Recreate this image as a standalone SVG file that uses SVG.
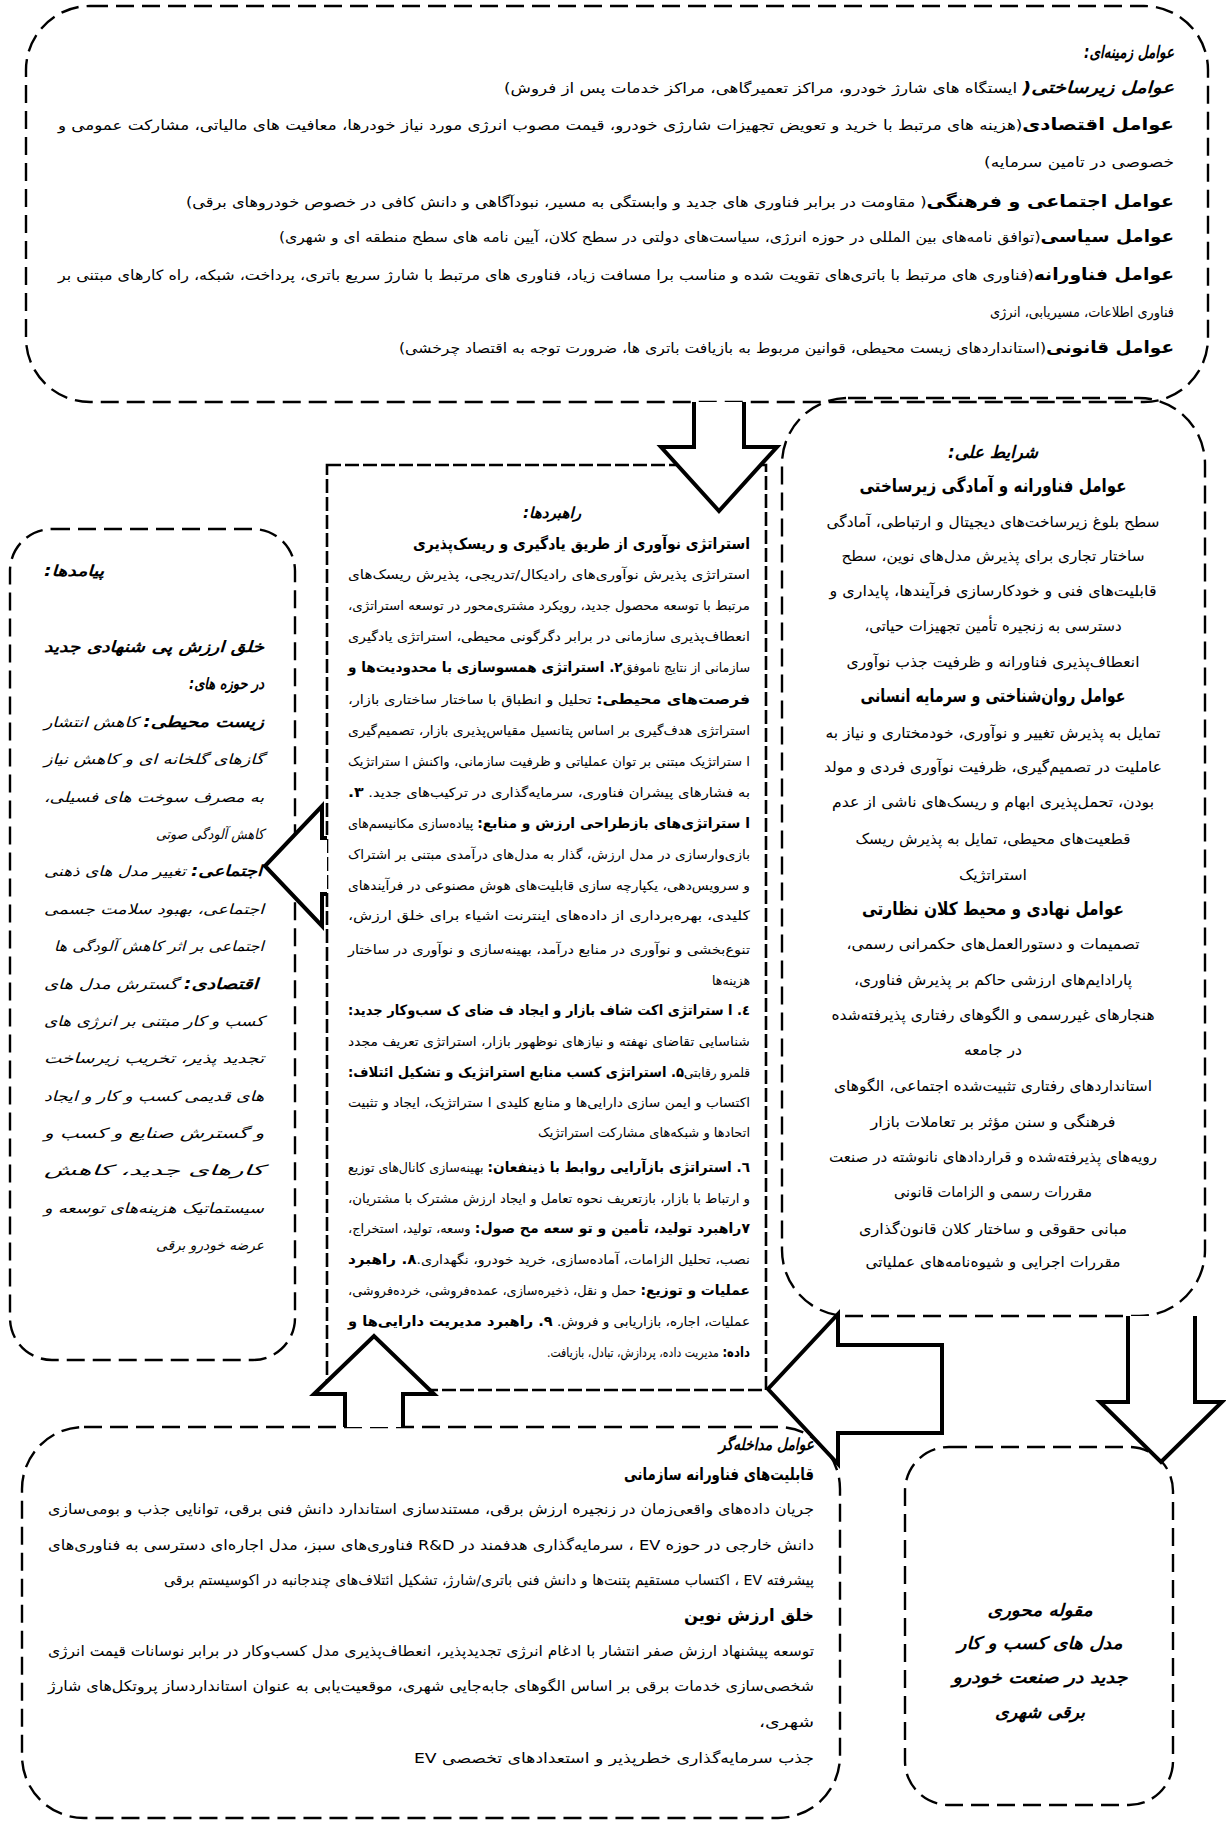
<svg xmlns="http://www.w3.org/2000/svg" width="1226" height="1822" viewBox="0 0 1226 1822">
<style>
.box{fill:none;stroke:#000;stroke-width:2.4;stroke-dasharray:18 8}
.mbox{fill:none;stroke:#000;stroke-width:2.6;stroke-dasharray:14 4}
.arr{fill:#fff;stroke:#000;stroke-width:4;stroke-linejoin:miter}
text{font-family:"DejaVu Sans",sans-serif;fill:#000}
.b{font-weight:bold}
.i{font-style:italic}
.bi{font-weight:bold;font-style:italic}
</style>
<rect width="1226" height="1822" fill="#fff"/>

<g id="context">
<rect class="box" x="26" y="6" width="1182" height="396" rx="64"/>
<g font-size="14" direction="rtl">
<text x="1174" y="58" font-size="17" class="bi" textLength="90" lengthAdjust="spacingAndGlyphs">عوامل زمینه‌ای:</text>
<text x="1174" y="93" textLength="670" lengthAdjust="spacingAndGlyphs"><tspan class="bi" font-size="16.5">عوامل زیرساختی(</tspan> ایستگاه های شارژ خودرو، مراکز تعمیرگاهی، مراکز خدمات پس از فروش)</text>
<text x="1174" y="130" textLength="1116" lengthAdjust="spacingAndGlyphs"><tspan class="b" font-size="16.5">عوامل اقتصادی</tspan>(هزینه های مرتبط با خرید و تعویض تجهیزات شارژی خودرو، قیمت مصوب انرژی مورد نیاز خودرها، معافیت های مالیاتی، مشارکت عمومی و</text>
<text x="1174" y="167" textLength="190" lengthAdjust="spacingAndGlyphs">خصوصی در تامین سرمایه)</text>
<text x="1174" y="207" textLength="988" lengthAdjust="spacingAndGlyphs"><tspan class="b" font-size="16.5">عوامل اجتماعی و فرهنگی</tspan>( مقاومت در برابر فناوری های جدید و وابستگی به مسیر، نبودآگاهی و دانش کافی در خصوص خودروهای برقی)</text>
<text x="1174" y="242" textLength="895" lengthAdjust="spacingAndGlyphs"><tspan class="b" font-size="16.5">عوامل سیاسی</tspan>(توافق نامه‌های بین المللی در حوزه انرژی، سیاست‌های دولتی در سطح کلان، آیین نامه های سطح منطقه ای و شهری)</text>
<text x="1174" y="280" textLength="1116" lengthAdjust="spacingAndGlyphs"><tspan class="b" font-size="16.5">عوامل فناورانه</tspan>(فناوری های مرتبط با باتری‌های تقویت شده و مناسب برا مسافت زیاد، فناوری های مرتبط با شارژ سریع باتری، پرداخت، شبکه، راه کارهای مبتنی بر</text>
<text x="1174" y="317" textLength="184" lengthAdjust="spacingAndGlyphs">فناوری اطلاعات، مسیریابی، انرژی</text>
<text x="1174" y="353" textLength="775" lengthAdjust="spacingAndGlyphs"><tspan class="b" font-size="16.5">عوامل قانونی</tspan>(استانداردهای زیست محیطی، قوانین مربوط به بازیافت باتری ها، ضرورت توجه به اقتصاد چرخشی)</text>
</g>
</g>

<g id="causal">
<rect class="box" x="782" y="398" width="423" height="918" rx="66"/>
<g font-size="15" text-anchor="middle" direction="rtl">
<text x="993" y="458" class="bi" font-size="17" textLength="90" lengthAdjust="spacingAndGlyphs">شرایط علی:</text>
<text x="993" y="492" class="b" font-size="18" textLength="267" lengthAdjust="spacingAndGlyphs">عوامل فناورانه و آمادگی زیرساختی</text>
<text x="993" y="527" textLength="333" lengthAdjust="spacingAndGlyphs">سطح بلوغ زیرساخت‌های دیجیتال و ارتباطی، آمادگی</text>
<text x="993" y="561" textLength="303" lengthAdjust="spacingAndGlyphs">ساختار تجاری برای پذیرش مدل‌های نوین، سطح</text>
<text x="993" y="596" textLength="327" lengthAdjust="spacingAndGlyphs">قابلیت‌های فنی و خودکارسازی فرآیندها، پایداری و</text>
<text x="993" y="631" textLength="257" lengthAdjust="spacingAndGlyphs">دسترسی به زنجیره تأمین تجهیزات حیاتی،</text>
<text x="993" y="667" textLength="293" lengthAdjust="spacingAndGlyphs">انعطاف‌پذیری فناورانه و ظرفیت جذب نوآوری</text>
<text x="993" y="702" class="b" font-size="18" textLength="265" lengthAdjust="spacingAndGlyphs">عوامل روان‌شناختی و سرمایه انسانی</text>
<text x="993" y="738" textLength="335" lengthAdjust="spacingAndGlyphs">تمایل به پذیرش تغییر و نوآوری، خودمختاری و نیاز به</text>
<text x="993" y="772" textLength="338" lengthAdjust="spacingAndGlyphs">عاملیت در تصمیم‌گیری، ظرفیت نوآوری فردی و مولد</text>
<text x="993" y="807" textLength="322" lengthAdjust="spacingAndGlyphs">بودن، تحمل‌پذیری ابهام و ریسک‌های ناشی از عدم</text>
<text x="993" y="844" textLength="275" lengthAdjust="spacingAndGlyphs">قطعیت‌های محیطی، تمایل به پذیرش ریسک</text>
<text x="993" y="880" textLength="68" lengthAdjust="spacingAndGlyphs">استراتژیک</text>
<text x="993" y="915" class="b" font-size="18" textLength="262" lengthAdjust="spacingAndGlyphs">عوامل نهادی و محیط کلان نظارتی</text>
<text x="993" y="949" textLength="293" lengthAdjust="spacingAndGlyphs">تصمیمات و دستورالعمل‌های حکمرانی رسمی،</text>
<text x="993" y="985" textLength="278" lengthAdjust="spacingAndGlyphs">پارادایم‌های ارزشی حاکم بر پذیرش فناوری،</text>
<text x="993" y="1020" textLength="323" lengthAdjust="spacingAndGlyphs">هنجارهای غیررسمی و الگوهای رفتاری پذیرفته‌شده</text>
<text x="993" y="1055" textLength="58" lengthAdjust="spacingAndGlyphs">در جامعه</text>
<text x="993" y="1091" textLength="318" lengthAdjust="spacingAndGlyphs">استانداردهای رفتاری تثبیت‌شده اجتماعی، الگوهای</text>
<text x="993" y="1127" textLength="245" lengthAdjust="spacingAndGlyphs">فرهنگی و سنن مؤثر بر تعاملات بازار</text>
<text x="993" y="1162" textLength="328" lengthAdjust="spacingAndGlyphs">رویه‌های پذیرفته‌شده و قراردادهای نانوشته در صنعت</text>
<text x="993" y="1197" textLength="198" lengthAdjust="spacingAndGlyphs">مقررات رسمی و الزامات قانونی</text>
<text x="993" y="1234" textLength="268" lengthAdjust="spacingAndGlyphs">مبانی حقوقی و ساختار کلان قانون‌گذاری</text>
<text x="993" y="1267" textLength="255" lengthAdjust="spacingAndGlyphs">مقررات اجرایی و شیوه‌نامه‌های عملیاتی</text>
</g>
</g>

<g id="strategies">
<rect class="mbox" x="327" y="465" width="439" height="925"/>
<g font-size="13" direction="rtl">
<text x="552" y="518" text-anchor="middle" class="bi" font-size="15" textLength="58" lengthAdjust="spacingAndGlyphs">راهبردها:</text>
<text x="750" y="549" class="b" font-size="15.5" textLength="337" lengthAdjust="spacingAndGlyphs">استراتژی نوآوری از طریق یادگیری و ریسک‌پذیری</text>
<text x="750" y="579" textLength="402" lengthAdjust="spacingAndGlyphs">استراتژی پذیرش نوآوری‌های رادیکال/تدریجی، پذیرش ریسک‌های</text>
<text x="750" y="610" textLength="402" lengthAdjust="spacingAndGlyphs">مرتبط با توسعه محصول جدید، رویکرد مشتری‌محور در توسعه استراتژی،</text>
<text x="750" y="641" textLength="402" lengthAdjust="spacingAndGlyphs">انعطاف‌پذیری سازمانی در برابر دگرگونی محیطی، استراتژی یادگیری</text>
<text x="750" y="672" textLength="402" lengthAdjust="spacingAndGlyphs">سازمانی از نتایج ناموفق<tspan class="b" font-size="14">۲. استراتژی همسوسازی با محدودیت‌ها و</tspan></text>
<text x="750" y="704" textLength="402" lengthAdjust="spacingAndGlyphs"><tspan class="b" font-size="14">فرصت‌های محیطی:</tspan> تحلیل و انطباق با ساختار ساختاری بازار،</text>
<text x="750" y="735" textLength="402" lengthAdjust="spacingAndGlyphs">استراتژی هدف‌گیری بر اساس پتانسیل مقیاس‌پذیری بازار، تصمیم‌گیری</text>
<text x="750" y="766" textLength="402" lengthAdjust="spacingAndGlyphs">ا ستراتژیک مبتنی بر توان عملیاتی و ظرفیت سازمانی، واکنش ا ستراتژیک</text>
<text x="750" y="797" textLength="402" lengthAdjust="spacingAndGlyphs">به فشارهای پیشران فناوری، سرمایه‌گذاری در ترکیب‌های جدید. <tspan class="b" font-size="14">۳.</tspan></text>
<text x="750" y="828" textLength="402" lengthAdjust="spacingAndGlyphs"><tspan class="b" font-size="14">ا ستراتژی‌های بازطراحی ارزش و منابع:</tspan> پیاده‌سازی مکانیسم‌های</text>
<text x="750" y="859" textLength="402" lengthAdjust="spacingAndGlyphs">بازی‌وارسازی در مدل ارزش، گذار به مدل‌های درآمدی مبتنی بر اشتراک</text>
<text x="750" y="890" textLength="402" lengthAdjust="spacingAndGlyphs">و سرویس‌دهی، یکپارچه سازی قابلیت‌های هوش مصنوعی در فرآیندهای</text>
<text x="750" y="920" textLength="402" lengthAdjust="spacingAndGlyphs">کلیدی، بهره‌برداری از داده‌های اینترنت اشیاء برای خلق ارزش،</text>
<text x="750" y="954" textLength="402" lengthAdjust="spacingAndGlyphs">تنوع‌بخشی و نوآوری در منابع درآمد، بهینه‌سازی و نوآوری در ساختار</text>
<text x="750" y="985" textLength="38" lengthAdjust="spacingAndGlyphs">هزینه‌ها</text>
<text x="750" y="1015" class="b" font-size="14" textLength="402" lengthAdjust="spacingAndGlyphs">٤. ا ستراتژی اکت شاف بازار و ایجاد ف ضای ک سب‌وکار جدید:</text>
<text x="750" y="1046" textLength="402" lengthAdjust="spacingAndGlyphs">شناسایی تقاضای نهفته و نیازهای نوظهور بازار، استراتژی تعریف مجدد</text>
<text x="750" y="1077" textLength="402" lengthAdjust="spacingAndGlyphs">قلمرو رقابتی<tspan class="b" font-size="14">۵. استراتژی کسب منابع استراتژیک و تشکیل ائتلاف:</tspan></text>
<text x="750" y="1107" textLength="402" lengthAdjust="spacingAndGlyphs">اکتساب و ایمن سازی دارایی‌ها و منابع کلیدی ا ستراتژیک، ایجاد و تثبیت</text>
<text x="750" y="1137" textLength="212" lengthAdjust="spacingAndGlyphs">اتحادها و شبکه‌های مشارکت استراتژیک</text>
<text x="750" y="1172" textLength="402" lengthAdjust="spacingAndGlyphs"><tspan class="b" font-size="14">٦. استراتژی بازآرایی روابط با ذینفعان:</tspan> بهینه‌سازی کانال‌های توزیع</text>
<text x="750" y="1203" textLength="402" lengthAdjust="spacingAndGlyphs">و ارتباط با بازار، بازتعریف نحوه تعامل و ایجاد ارزش مشترک با مشتریان،</text>
<text x="750" y="1233" textLength="402" lengthAdjust="spacingAndGlyphs"><tspan class="b" font-size="14">۷راهبرد تولید، تأمین و تو سعه مح صول:</tspan> وسعه، تولید، استخراج،</text>
<text x="750" y="1264" textLength="402" lengthAdjust="spacingAndGlyphs">نصب، تحلیل الزامات، آماده‌سازی، خرید خودرو، نگهداری.<tspan class="b" font-size="14">۸. راهبرد</tspan></text>
<text x="750" y="1295" textLength="402" lengthAdjust="spacingAndGlyphs"><tspan class="b" font-size="14">عملیات و توزیع:</tspan> حمل و نقل، ذخیره‌سازی، عمده‌فروشی، خرده‌فروشی،</text>
<text x="750" y="1326" textLength="402" lengthAdjust="spacingAndGlyphs">عملیات، اجاره، بازاریابی و فروش. <tspan class="b" font-size="14">۹. راهبرد مدیریت دارایی‌ها و</tspan></text>
<text x="750" y="1357" textLength="203" lengthAdjust="spacingAndGlyphs"><tspan class="b" font-size="14">داده:</tspan> مدیریت داده، پردازش، تبادل، بازیافت.</text>
</g>
</g>

<g id="consequences">
<rect class="box" x="10" y="529" width="285" height="831" rx="42"/>
<g font-size="14" direction="rtl" class="i">
<text x="104" y="576" class="bi" font-size="15" textLength="60" lengthAdjust="spacingAndGlyphs">پیامدها:</text>
<text x="264" y="652" class="bi" font-size="15.5" textLength="220" lengthAdjust="spacingAndGlyphs">خلق ارزش پی شنهادی جدید</text>
<text x="264" y="689" class="bi" font-size="15.5" textLength="75" lengthAdjust="spacingAndGlyphs">در حوزه های:</text>
<text x="264" y="727" textLength="220" lengthAdjust="spacingAndGlyphs"><tspan class="bi" font-size="15">زیست محیطی:</tspan> کاهش انتشار</text>
<text x="264" y="764" textLength="220" lengthAdjust="spacingAndGlyphs">گازهای گلخانه ای و کاهش نیاز</text>
<text x="264" y="802" textLength="220" lengthAdjust="spacingAndGlyphs">به مصرف سوخت های فسیلی،</text>
<text x="264" y="839" textLength="108" lengthAdjust="spacingAndGlyphs">کاهش آلودگی صوتی</text>
<text x="262" y="876" textLength="218" lengthAdjust="spacingAndGlyphs"><tspan class="bi" font-size="15">اجتماعی:</tspan> تغییر مدل های ذهنی</text>
<text x="264" y="914" textLength="220" lengthAdjust="spacingAndGlyphs">اجتماعی، بهبود سلامت جسمی</text>
<text x="264" y="951" textLength="210" lengthAdjust="spacingAndGlyphs">اجتماعی بر اثر کاهش آلودگی ها</text>
<text x="258" y="989" textLength="214" lengthAdjust="spacingAndGlyphs"><tspan class="bi" font-size="15">اقتصادی:</tspan> گسترش مدل های</text>
<text x="264" y="1026" textLength="220" lengthAdjust="spacingAndGlyphs">کسب و کار مبتنی بر انرژی های</text>
<text x="264" y="1063" textLength="220" lengthAdjust="spacingAndGlyphs">تجدید پذیر، تخریب زیرساخت</text>
<text x="264" y="1101" textLength="220" lengthAdjust="spacingAndGlyphs">های قدیمی کسب و کار و ایجاد</text>
<text x="264" y="1138" textLength="220" lengthAdjust="spacingAndGlyphs">و گسترش صنایع و کسب و</text>
<text x="264" y="1175" textLength="220" lengthAdjust="spacingAndGlyphs">کارهای جدید، کاهش</text>
<text x="264" y="1213" textLength="220" lengthAdjust="spacingAndGlyphs">سیستماتیک هزینه‌های توسعه و</text>
<text x="264" y="1250" textLength="108" lengthAdjust="spacingAndGlyphs">عرضه خودرو برقی</text>
</g>
</g>

<g id="intervening">
<rect class="box" x="22" y="1427" width="818" height="391" rx="62"/>
<g font-size="14.5" direction="rtl">
<text x="814" y="1450" class="bi" font-size="16.5" textLength="95" lengthAdjust="spacingAndGlyphs">عوامل مداخله‌گر</text>
<text x="814" y="1480" class="b" font-size="17" textLength="190" lengthAdjust="spacingAndGlyphs">قابلیت‌های فناورانه سازمانی</text>
<text x="814" y="1514" textLength="766" lengthAdjust="spacingAndGlyphs">جریان داده‌های واقعی‌زمان در زنجیره ارزش برقی، مستندسازی استاندارد دانش فنی برقی، توانایی جذب و بومی‌سازی</text>
<text x="814" y="1550" textLength="766" lengthAdjust="spacingAndGlyphs">دانش خارجی در حوزه EV ، سرمایه‌گذاری هدفمند در R&amp;D فناوری‌های سبز، مدل اجاره‌ای دسترسی به فناوری‌های</text>
<text x="814" y="1585" textLength="650" lengthAdjust="spacingAndGlyphs">پیشرفته EV ، اکتساب مستقیم پتنت‌ها و دانش فنی باتری/شارژ، تشکیل ائتلاف‌های چندجانبه در اکوسیستم برقی</text>
<text x="814" y="1621" class="b" font-size="17" textLength="130" lengthAdjust="spacingAndGlyphs">خلق ارزش نوین</text>
<text x="814" y="1656" textLength="766" lengthAdjust="spacingAndGlyphs">توسعه پیشنهاد ارزش صفر انتشار با ادغام انرژی تجدیدپذیر، انعطاف‌پذیری مدل کسب‌وکار در برابر نوسانات قیمت انرژی</text>
<text x="814" y="1691" textLength="766" lengthAdjust="spacingAndGlyphs">شخصی‌سازی خدمات برقی بر اساس الگوهای جابه‌جایی شهری، موقعیت‌یابی به عنوان استانداردساز پروتکل‌های شارژ</text>
<text x="814" y="1727" textLength="55" lengthAdjust="spacingAndGlyphs">شهری،</text>
<text x="814" y="1763" textLength="400" lengthAdjust="spacingAndGlyphs">جذب سرمایه‌گذاری خطرپذیر و استعدادهای تخصصی EV</text>
</g>
</g>

<g id="core">
<rect class="box" x="905" y="1447" width="268" height="358" rx="44"/>
<g font-size="17" class="bi" text-anchor="middle" direction="rtl">
<text x="1040" y="1616" textLength="105" lengthAdjust="spacingAndGlyphs">مقوله محوری</text>
<text x="1040" y="1649" textLength="165" lengthAdjust="spacingAndGlyphs">مدل های کسب و کار</text>
<text x="1040" y="1683" textLength="175" lengthAdjust="spacingAndGlyphs">جدید در صنعت خودرو</text>
<text x="1040" y="1718" textLength="90" lengthAdjust="spacingAndGlyphs">برقی شهری</text>
</g>
</g>

<g id="connectors">
<path class="arr" d="M694,402 L694,447 L661,447 L719,511 L777,447 L744,447 L744,402"/>
<path class="arr" d="M1128,1316 L1128,1402 L1100,1402 L1161,1462 L1222,1402 L1195,1402 L1195,1316"/>
<path class="arr" d="M942,1345 L838,1345 L838,1314 L768,1389 L838,1464 L838,1433 L942,1433 Z"/>
<path class="arr" d="M345,1427 L345,1394 L314,1394 L374,1336 L434,1394 L403,1394 L403,1427"/>
<path class="arr" d="M327,838 L322,838 L322,806 L265,866 L322,926 L322,894 L327,894"/>
</g>
</svg>
